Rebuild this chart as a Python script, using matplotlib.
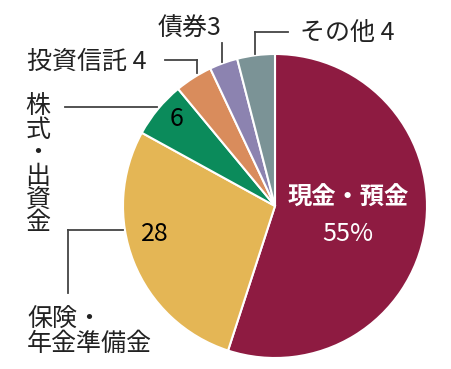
import matplotlib
matplotlib.use("Agg")
import matplotlib.pyplot as plt

# household financial assets breakdown (%), clockwise from top
labels = ["現金・預金", "保険・年金準備金", "株式・出資金", "投資信託", "債券", "その他"]
values = [55, 28, 6, 4, 3, 4]
colors = ["#8E1B41", "#E4B655", "#0B8B5B", "#D98C5C", "#8C83B0", "#7B9396"]

W, H = 452, 369
plt.rcParams["font.family"] = ["Noto Sans CJK JP", "DejaVu Sans"]

fig = plt.figure(figsize=(W / 100, H / 100), dpi=100)
ax = fig.add_axes([0, 0, 1, 1])

def py(y):
    # pixel row -> data y
    return H - y

ax.pie(values, colors=colors, startangle=90, counterclock=False,
       center=(275, py(206)), radius=152,
       wedgeprops=dict(edgecolor="white", linewidth=1.5))
ax.set_xlim(0, W)
ax.set_ylim(0, H)
ax.set_aspect("equal")
ax.axis("off")

txt = "#222222"
lc = "#444444"
lw = 1.3

# leader lines
ax.plot([255, 288], [py(32), py(32)], color=lc, lw=lw)
ax.plot([255, 255], [py(32), py(54)], color=lc, lw=lw)
ax.plot([222, 222], [py(43), py(62)], color=lc, lw=lw)
ax.plot([165, 197], [py(60), py(60)], color=lc, lw=lw)
ax.plot([197, 197], [py(60), py(73)], color=lc, lw=lw)
ax.plot([65, 157], [py(107), py(107)], color=lc, lw=lw)
ax.plot([68, 123], [py(230), py(230)], color=lc, lw=lw)
ax.plot([68, 68], [py(230), py(293)], color=lc, lw=lw)

fs = 18
ax.text(300, py(33), labels[5] + " " + str(values[5]), fontsize=fs, color=txt,
        ha="left", va="center")
ax.text(158, py(29), labels[4] + str(values[4]), fontsize=fs, color=txt,
        ha="left", va="center")
ax.text(27, py(62), labels[3] + " " + str(values[3]), fontsize=fs, color=txt,
        ha="left", va="center")

# vertical label
ax.text(38, py(165), "\n".join(labels[2]), fontsize=fs, color=txt,
        ha="center", va="center", linespacing=0.87)

ax.text(27, py(332), "保険・\n年金準備金", fontsize=fs, color=txt,
        ha="left", va="center", linespacing=0.92)

ax.text(177, py(119), str(values[2]), fontsize=18, color="black",
        ha="center", va="center")
ax.text(155, py(234), str(values[1]), fontsize=18, color="black",
        ha="center", va="center")
ax.text(348, py(198), labels[0], fontsize=17.5, color="white", fontweight="bold",
        ha="center", va="center")
ax.text(348, py(234), f"{values[0]}%", fontsize=18, color="white",
        ha="center", va="center")

fig.savefig("out.png", dpi=100)
